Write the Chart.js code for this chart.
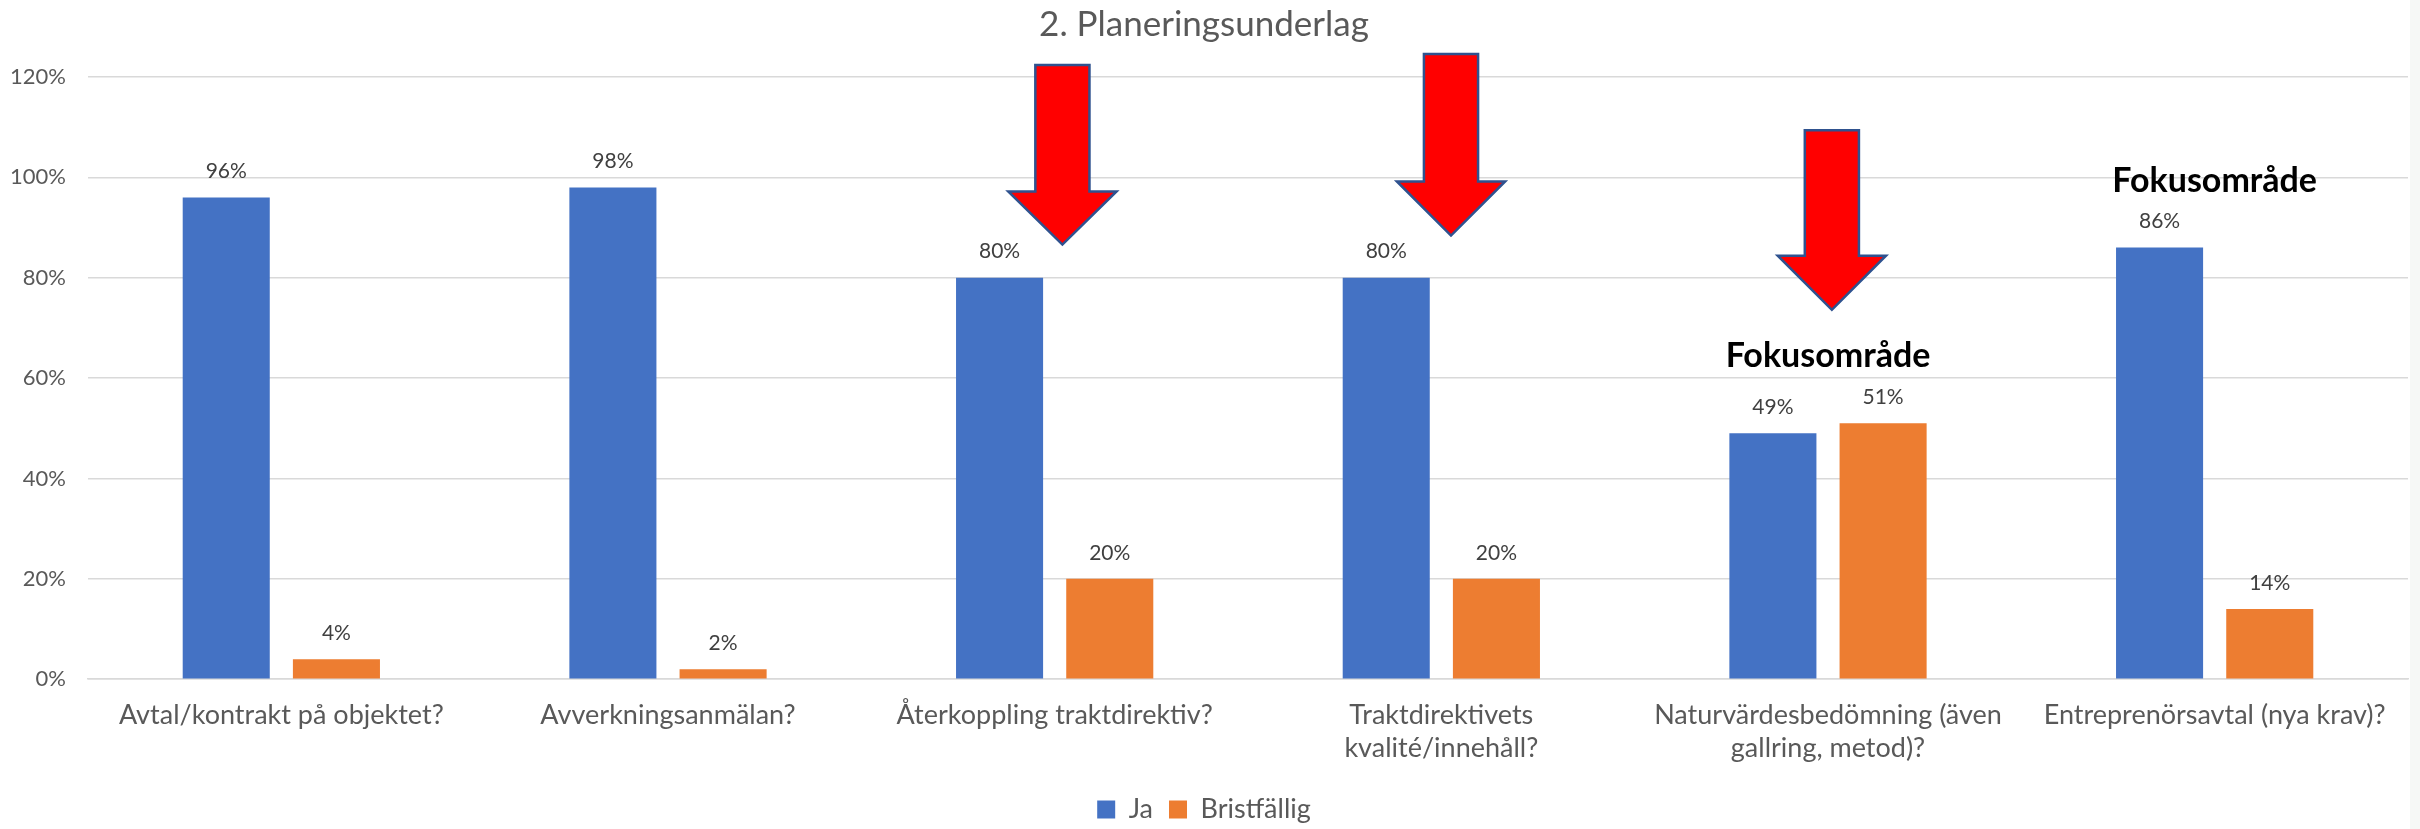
<!DOCTYPE html>
<html>
<head>
<meta charset="utf-8">
<script src="https://cdn.jsdelivr.net/npm/chart.js@4.4.1/dist/chart.umd.min.js"></script>
<style>
  html, body { margin: 0; padding: 0; background: #f6f8f6; }
  #wrap { width: 2410px; height: 829px; position: relative; background: #fff; }
</style>
</head>
<body>
<div id="wrap"><canvas id="grafico"></canvas></div>
<script>
// Datos del gráfico
const categorias = [
  'Avtal/kontrakt på objektet?',
  'Avverkningsanmälan?',
  'Återkoppling traktdirektiv?',
  ['Traktdirektivets', 'kvalité/innehåll?'],
  ['Naturvärdesbedömning (även', 'gallring, metod)?'],
  'Entreprenörsavtal (nya krav)?'
];
const ja = [96, 98, 80, 80, 49, 86];
const bristfallig = [4, 2, 20, 20, 51, 14];
const yMax = 120;
const yPaso = 20;

const FUENTE = 'Lato, "Open Sans", sans-serif';

// Flechas y textos "Fokusområde" (en unidades del eje y)
const anotaciones = {
  flechas: [
    { cat: 2, topp: 122.4, bas: 97.2, spets: 86.6, dx: 0.02 },
    { cat: 3, topp: 124.6, bas: 99.2, spets: 88.4, dx: 0.025 },
    { cat: 4, topp: 109.4, bas: 84.4, spets: 73.6, dx: 0.01 }
  ],
  textos: [
    { cat: 4, y: 64.4, texto: 'Fokusområde' },
    { cat: 5, y: 99.2, texto: 'Fokusområde' }
  ]
};

// Plugin: etiquetas de datos + flechas + textos
const extras = {
  id: 'extras',
  afterDatasetsDraw(chart, args, opts) {
    const ctx = chart.ctx;
    const x = chart.scales.x;
    const y = chart.scales.y;

    // etiquetas sobre las barras
    ctx.save();
    ctx.font = '21px ' + FUENTE;
    ctx.fillStyle = '#404040';
    ctx.textAlign = 'center';
    ctx.textBaseline = 'middle';
    chart.data.datasets.forEach((ds, i) => {
      chart.getDatasetMeta(i).data.forEach((bar, j) => {
        ctx.fillText(ds.data[j] + '%', bar.x, bar.y - 26);
      });
    });
    ctx.restore();

    const anchoCat = (x.right - x.left) / categorias.length;

    // flechas rojas
    opts.flechas.forEach(f => {
      const cx = x.getPixelForValue(f.cat) + f.dx * anchoCat;
      const yTop = y.getPixelForValue(f.topp);
      const yBas = y.getPixelForValue(f.bas);
      const yTip = y.getPixelForValue(f.spets);
      const eje = anchoCat * 0.07;
      const cabeza = anchoCat * 0.14;
      ctx.save();
      ctx.beginPath();
      ctx.moveTo(cx - eje, yTop);
      ctx.lineTo(cx + eje, yTop);
      ctx.lineTo(cx + eje, yBas);
      ctx.lineTo(cx + cabeza, yBas);
      ctx.lineTo(cx, yTip);
      ctx.lineTo(cx - cabeza, yBas);
      ctx.lineTo(cx - eje, yBas);
      ctx.closePath();
      ctx.fillStyle = '#ff0000';
      ctx.fill();
      ctx.lineWidth = 2.5;
      ctx.strokeStyle = '#2f528f';
      ctx.stroke();
      ctx.restore();
    });

    // textos Fokusområde
    ctx.save();
    ctx.font = 'bold 34px ' + FUENTE;
    ctx.fillStyle = '#000';
    ctx.textAlign = 'center';
    ctx.textBaseline = 'middle';
    opts.textos.forEach(t => {
      ctx.fillText(t.texto, x.getPixelForValue(t.cat), y.getPixelForValue(t.y));
    });
    ctx.restore();
  }
};

const ctx = document.getElementById('grafico').getContext('2d');
const grafico = new Chart(ctx, {
  type: 'bar',
  data: {
    labels: categorias,
    datasets: [
      { label: 'Ja', data: ja, backgroundColor: '#4472c4', categoryPercentage: 0.57, barPercentage: 0.79 },
      { label: 'Bristfällig', data: bristfallig, backgroundColor: '#ed7d31', categoryPercentage: 0.57, barPercentage: 0.79 }
    ]
  },
  options: {
    responsive: true,
    maintainAspectRatio: false,
    animation: false,
    layout: { padding: { left: 0, right: 2, top: 0, bottom: -4 } },
    scales: {
      x: {
        afterFit(scale) { scale.height -= 4; },
        grid: { display: false, drawTicks: false },
        border: { color: '#d9d9d9', width: 1.5 },
        ticks: { color: '#595959', font: { family: FUENTE, size: 27 }, padding: 20, maxRotation: 0, autoSkip: false }
      },
      y: {
        min: 0,
        max: yMax,
        afterFit(scale) { scale.width = 88; },
        grid: { color: '#d9d9d9', lineWidth: 1.5, drawTicks: false },
        border: { display: false },
        ticks: {
          stepSize: yPaso,
          color: '#595959',
          font: { family: FUENTE, size: 22 },
          padding: 22,
          callback: v => v + '%'
        }
      }
    },
    plugins: {
      title: {
        display: true,
        text: '2. Planeringsunderlag',
        color: '#595959',
        font: { family: FUENTE, size: 35, weight: 'normal' },
        padding: { top: 4, bottom: 31 }
      },
      legend: {
        position: 'bottom',
        labels: {
          color: '#595959',
          font: { family: FUENTE, size: 27 },
          boxWidth: 18,
          boxHeight: 18,
          padding: 16
        }
      },
      tooltip: { enabled: false },
      extras: anotaciones
    }
  },
  plugins: [extras]
});
</script>
</body>
</html>
